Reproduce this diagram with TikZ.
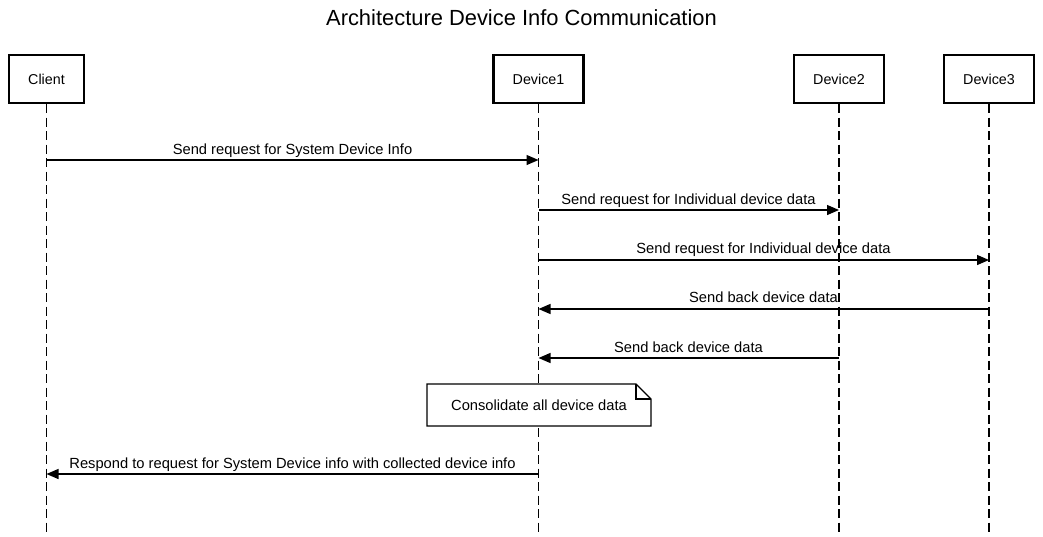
\documentclass[tikz,border=0pt]{standalone}
\usepackage{fontspec}
\setmainfont{Liberation Sans}
\usetikzlibrary{arrows.meta}
\begin{document}
\begin{tikzpicture}[x=1pt,y=-1pt,
  actor/.style={draw,line width=2.4pt,minimum width=90pt,minimum height=48pt,inner sep=0pt,font=\fontsize{14.3}{16}\selectfont},
  life/.style={line width=1.3pt,dash pattern=on 9pt off 4.5pt},
  msg/.style={line width=1.3pt,-{Triangle[length=12pt,width=10pt]}},
  lbl/.style={font=\fontsize{14.7}{16}\selectfont,inner sep=0pt,anchor=base}]
\useasboundingbox (0,0) rectangle (1043,536);
\node[font=\fontsize{21.9}{25}\selectfont] (title) at (521.5,18) {Architecture Device Info Communication};
\node[actor,minimum width=75pt] (client) at (46.5,79) {Client};
\node[actor] (dev1) at (538.5,79) {Device1};
\node[actor] (dev2) at (839,79) {Device2};
\node[actor] (dev3) at (989,79) {Device3};
\coordinate (cend) at (46.5,536);
\coordinate (d1end) at (538.5,536);
\coordinate (d2end) at (839,536);
\coordinate (d3end) at (989,536);
\draw[life] (client.south) -- (cend);
\draw[life] (dev1.south) -- (d1end);
\draw[life] (dev2.south) -- (d2end);
\draw[life] (dev3.south) -- (d3end);
% message endpoints
\coordinate (m1a) at (46.5,160); \coordinate (m1b) at (538.5,160);
\coordinate (m2a) at (538.5,210); \coordinate (m2b) at (839,210);
\coordinate (m3a) at (538.5,260); \coordinate (m3b) at (989,260);
\coordinate (m4a) at (989,309); \coordinate (m4b) at (538.5,309);
\coordinate (m5a) at (839,358); \coordinate (m5b) at (538.5,358);
\coordinate (m7a) at (538.5,474); \coordinate (m7b) at (46.5,474);
\draw[msg] (m1a) -- (m1b);
\node[lbl] (l1) at (292.5,154) {Send request for System Device Info};
\draw[msg] (m2a) -- (m2b);
\node[lbl] (l2) at (688.5,204) {Send request for Individual device data};
\draw[msg] (m3a) -- (m3b);
\node[lbl] (l3) at (763.5,253) {Send request for Individual device data};
\draw[msg] (m4a) -- (m4b);
\node[lbl] (l4) at (763.5,302) {Send back device data};
\draw[msg] (m5a) -- (m5b);
\node[lbl] (l5) at (688.5,352) {Send back device data};
% note
\fill[white] (427,384) -- (636,384) -- (651,399) -- (651,426) -- (427,426) -- cycle;
\draw[line width=1.2pt] (427,384) -- (636,384) -- (651,399) -- (651,426) -- (427,426) -- cycle;
\draw[line width=1.2pt] (636,384) -- (636,399) -- (651,399);
\node[font=\fontsize{14.7}{16}\selectfont] (note) at (539,405.5) {Consolidate all device data};
\draw[msg] (m7a) -- (m7b);
\node[lbl] (l7) at (292.5,468) {Respond to request for System Device info with collected device info};
\end{tikzpicture}
\end{document}
